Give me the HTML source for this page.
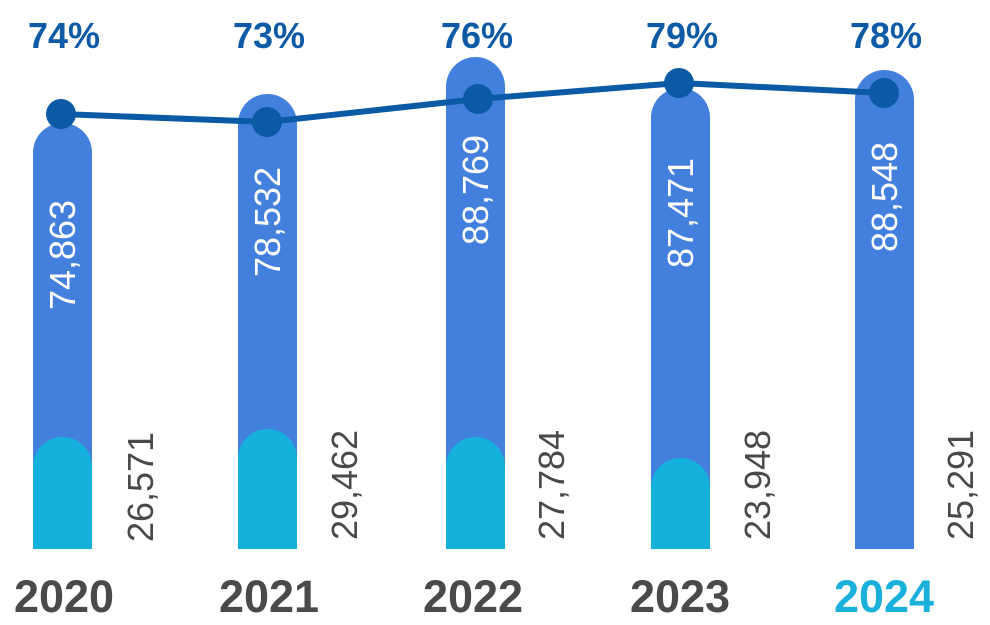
<!DOCTYPE html>
<html><head><style>body{margin:0;background:#fff}svg{display:block}</style></head><body>
<svg width="990" height="625" xmlns="http://www.w3.org/2000/svg" font-family="'Liberation Sans', sans-serif">
<g fill="#4380de">
<path d="M33,549 V152.5 a29.5,29.5 0 0 1 59,0 V549 Z"/>
<path d="M238,549 V123.5 a29.5,29.5 0 0 1 59,0 V549 Z"/>
<path d="M446,549 V86.5 a29.5,29.5 0 0 1 59,0 V549 Z"/>
<path d="M651,549 V117.5 a29.5,29.5 0 0 1 59,0 V549 Z"/>
<path d="M855,549 V99.5 a29.5,29.5 0 0 1 59,0 V549 Z"/>
</g>
<g fill="#16b0dc">
<path d="M33,549 V466.5 a29.5,29.5 0 0 1 59,0 V549 Z"/>
<path d="M238,549 V458.5 a29.5,29.5 0 0 1 59,0 V549 Z"/>
<path d="M446,549 V466.5 a29.5,29.5 0 0 1 59,0 V549 Z"/>
<path d="M651,549 V487.5 a29.5,29.5 0 0 1 59,0 V549 Z"/>
</g>
<polyline points="61,114 267,122 478,99 679,83 884,93" fill="none" stroke="#0a5aa6" stroke-width="6"/>
<g fill="#0a5aa6">
<circle cx="61" cy="114" r="15"/><circle cx="267" cy="122" r="15"/><circle cx="478" cy="99" r="15"/><circle cx="679" cy="83" r="15"/><circle cx="884" cy="93" r="15"/>
</g>
<g fill="#0d5ba6" font-weight="bold" font-size="36" text-anchor="middle">
<text x="64" y="48">74%</text><text x="269" y="48">73%</text><text x="477" y="48">76%</text><text x="682" y="48">79%</text><text x="886" y="48">78%</text>
</g>
<g fill="#fff" font-size="36" text-anchor="middle">
<text transform="translate(75,255) rotate(-90)">74,863</text>
<text transform="translate(280,222) rotate(-90)">78,532</text>
<text transform="translate(488,190) rotate(-90)">88,769</text>
<text transform="translate(693,213) rotate(-90)">87,471</text>
<text transform="translate(897,197) rotate(-90)">88,548</text>
</g>
<g fill="#4a4a4a" font-size="36" text-anchor="middle">
<text transform="translate(153,487) rotate(-90)">26,571</text>
<text transform="translate(357,485) rotate(-90)">29,462</text>
<text transform="translate(564,485) rotate(-90)">27,784</text>
<text transform="translate(770,485) rotate(-90)">23,948</text>
<text transform="translate(973,485) rotate(-90)">25,291</text>
</g>
<g fill="#4a4a4a" font-weight="bold" font-size="45" text-anchor="middle">
<text x="64" y="612">2020</text><text x="269" y="612">2021</text><text x="473" y="612">2022</text><text x="680" y="612">2023</text><text x="884" y="612" fill="#1ab0dc">2024</text>
</g>
</svg>
</body></html>
